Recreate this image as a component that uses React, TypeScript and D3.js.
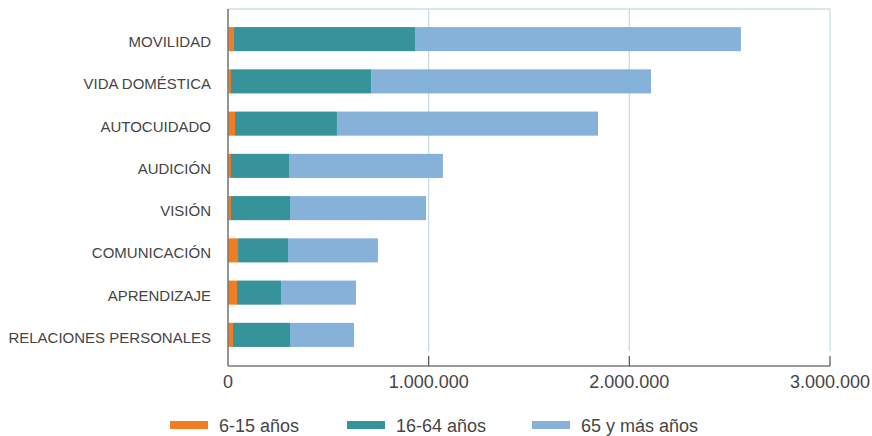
import React from "react";
import * as d3 from "d3";

const categories = [
  "MOVILIDAD",
  "VIDA DOMÉSTICA",
  "AUTOCUIDADO",
  "AUDICIÓN",
  "VISIÓN",
  "COMUNICACIÓN",
  "APRENDIZAJE",
  "RELACIONES PERSONALES",
];
const seriesNames = ["6-15 años", "16-64 años", "65 y más años"];
const age6to15 = [30000, 15000, 35000, 15000, 15000, 50000, 45000, 25000];
const age16to64 = [902000, 698000, 508000, 289000, 294000, 249000, 219000, 284000];
const age65plus = [1624000, 1395000, 1301000, 767000, 678000, 448000, 374000, 319000];
const xTicks = [0, 1000000, 2000000, 3000000];

const COLORS = ["#f47c20", "#36939a", "#86b1d9"];
const TEXT = "#454545";
const FONT = "'Liberation Sans', Arial, sans-serif";

export default function App() {
  const W = 872;
  const H = 436;
  const left = 228;
  const right = 830;
  const top = 9;
  const bottom = 366;

  const x = d3.scaleLinear().domain([0, 3000000]).range([left, right]);
  const y = d3
    .scaleBand<string>()
    .domain(categories)
    .range([18, 356])
    .paddingInner(0.43)
    .paddingOuter(0.215);

  const rows = categories.map((c, i) => ({
    cat: c,
    s0: age6to15[i],
    s1: age16to64[i],
    s2: age65plus[i],
  }));
  const stack = d3.stack<any>().keys(["s0", "s1", "s2"]);
  const layers = stack(rows);

  const fmt = d3.formatLocale({
    decimal: ",",
    thousands: ".",
    grouping: [3],
    currency: ["", "€"],
  }).format(",");

  const legendX = [170, 347, 532];

  return (
    <svg
      width={W}
      height={H}
      style={{ position: "absolute", left: 0, top: 0, background: "#fff" }}
      fontFamily={FONT}
    >
      {/* top border */}
      <line x1={left} x2={right} y1={top} y2={top} stroke="#cfe1e5" strokeWidth={1.5} />
      {/* grid lines */}
      {xTicks.slice(1).map((t) => (
        <line key={"g" + t} x1={x(t)} x2={x(t)} y1={top} y2={351} stroke="#c5dbe2" strokeWidth={1.2} />
      ))}
      {/* bars */}
      {layers.map((layer, li) => (
        <g key={li} fill={COLORS[li]}>
          {layer.map((d: any) => (
            <rect
              key={d.data.cat}
              x={x(d[0])}
              y={y(d.data.cat)}
              width={x(d[1]) - x(d[0])}
              height={y.bandwidth()}
            />
          ))}
        </g>
      ))}
      {/* axes */}
      <line x1={left} x2={left} y1={top} y2={bottom} stroke="#7a7a7a" strokeWidth={1.6} />
      <line x1={left} x2={right} y1={bottom} y2={bottom} stroke="#7a7a7a" strokeWidth={1.6} />
      {xTicks.slice(1).map((t) => (
        <line key={"t" + t} x1={x(t)} x2={x(t)} y1={356} y2={bottom} stroke="#555" strokeWidth={1.2} />
      ))}
      {xTicks.map((t) => (
        <text key={"l" + t} x={x(t)} y={388} textAnchor="middle" fontSize={18} fill={TEXT}>
          {fmt(t)}
        </text>
      ))}
      {/* category labels */}
      {categories.map((c) => (
        <text
          key={c}
          x={211}
          y={(y(c) as number) + y.bandwidth() / 2 + 8}
          textAnchor="end"
          fontSize={15}
          fill={TEXT}
        >
          {c}
        </text>
      ))}
      {/* legend */}
      {seriesNames.map((s, i) => (
        <g key={s} transform={`translate(${legendX[i]},0)`}>
          <rect x={0} y={421} width={38} height={8} fill={COLORS[i]} />
          <text x={49} y={432} fontSize={18} fill={TEXT}>
            {s}
          </text>
        </g>
      ))}
    </svg>
  );
}
